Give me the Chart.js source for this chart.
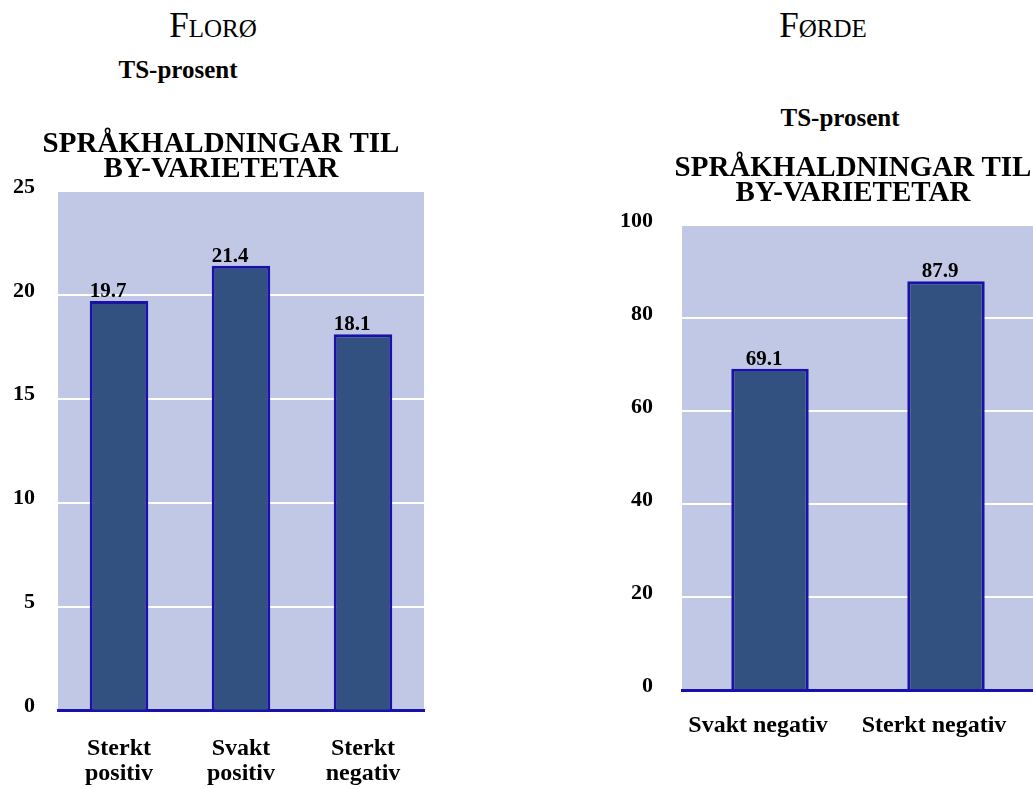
<!DOCTYPE html>
<html>
<head>
<meta charset="utf-8">
<script src="https://cdn.jsdelivr.net/npm/chart.js@4.4.1/dist/chart.umd.min.js"></script>
<style>
  html, body { margin: 0; padding: 0; background: #fff; overflow: hidden; }
  body { width: 1033px; height: 789px; position: relative; font-family: "Liberation Serif", "Times New Roman", serif; }
  .place { position: absolute; font-size: 35px; font-variant: small-caps; text-align: center; width: 300px; line-height: 35px; }
  .unit { position: absolute; font-size: 25px; font-weight: bold; text-align: center; width: 300px; line-height: 25px; }
  canvas { position: absolute; top: 0; }
</style>
</head>
<body>
<div class="place" style="left:63px; top:8px;">Florø</div>
<div class="place" style="left:673px; top:8px;">Førde</div>
<div class="unit" style="left:28px; top:57px;">TS-prosent</div>
<div class="unit" style="left:690px; top:105px;">TS-prosent</div>
<canvas id="floro" width="462" height="812" style="left:-10px;"></canvas>
<canvas id="forde" width="524" height="789" style="left:591px;"></canvas>
<script>
const titleLines = ['SPRÅKHALDNINGAR TIL', 'BY-VARIETETAR'];

const floroLabels = [['Sterkt', 'positiv'], ['Svakt', 'positiv'], ['Sterkt', 'negativ']];
const floroValues = [19.7, 21.4, 18.1];

const fordeLabels = ['Svakt negativ', 'Sterkt negativ'];
const fordeValues = [69.1, 87.9];

const bgBlue = '#c0c8e6';
const barFill = '#325181';
const barEdge = '#1a12a8';

// light blue plot area behind the bars
const plotBg = {
    id: 'plotBg',
    beforeDraw(chart) {
        const a = chart.chartArea;
        const ctx = chart.ctx;
        ctx.save();
        ctx.fillStyle = bgBlue;
        ctx.fillRect(a.left, a.top, a.right - a.left, a.bottom - a.top);
        ctx.restore();
    }
};

// value written on top of each bar
const valueTags = {
    id: 'valueTags',
    afterDatasetsDraw(chart, args, opts) {
        const ctx = chart.ctx;
        const meta = chart.getDatasetMeta(0);
        ctx.save();
        ctx.font = 'bold 21px "Liberation Serif", serif';
        ctx.fillStyle = '#000';
        ctx.textBaseline = 'alphabetic';
        meta.data.forEach((bar, i) => {
            const v = chart.data.datasets[0].data[i].toFixed(1);
            if (opts.align === 'left') {
                ctx.textAlign = 'left';
                ctx.fillText(v, bar.x - bar.width / 2, bar.y - 4);
            } else {
                ctx.textAlign = 'center';
                ctx.fillText(v, bar.x - 6, bar.y - 4);
            }
        });
        ctx.restore();
    }
};

function makeChart(el, labels, values, o) {
    return new Chart(el, {
        type: 'bar',
        data: {
            labels: labels,
            datasets: [{
                data: values,
                backgroundColor: barFill,
                borderColor: barEdge,
                borderWidth: 3,
                categoryPercentage: 1,
                barPercentage: o.barPct
            }]
        },
        options: {
            responsive: false,
            animation: false,
            layout: { padding: o.pad },
            plugins: {
                legend: { display: false },
                tooltip: { enabled: false },
                title: {
                    display: true,
                    text: titleLines,
                    color: '#000',
                    font: { family: '"Liberation Serif", serif', size: 29, weight: 'bold', lineHeight: 0.86 },
                    padding: o.titlePad
                },
                valueTags: { align: o.tagAlign }
            },
            scales: {
                x: {
                    grid: { display: false, drawTicks: false },
                    border: { display: true, color: barEdge, width: 3 },
                    ticks: {
                        color: '#000',
                        padding: o.xPad,
                        maxRotation: 0,
                        labelOffset: o.xShift,
                        font: { family: '"Liberation Serif", serif', size: 24, weight: 'bold', lineHeight: 1.07 }
                    }
                },
                y: {
                    min: 0,
                    max: o.max,
                    grid: {
                        color: ctx => ctx.tick.value === 0 ? 'rgba(0,0,0,0)' : '#ffffff',
                        lineWidth: 2,
                        drawTicks: false
                    },
                    border: { display: false },
                    ticks: {
                        stepSize: o.step,
                        color: '#000',
                        padding: o.yPad,
                        labelOffset: -4,
                        font: { family: '"Liberation Serif", serif', size: 22, weight: 'bold' }
                    }
                },
                // empty strip on the right so the title stays centred on the whole canvas
                gap: {
                    type: 'linear',
                    position: 'right',
                    grid: { display: false, drawTicks: false },
                    border: { display: false },
                    ticks: { display: false },
                    afterFit(scale) { scale.width = o.rightGap; }
                }
            }
        },
        plugins: [plotBg, valueTags]
    });
}

makeChart(document.getElementById('floro'), floroLabels, floroValues, {
    max: 25, step: 5, barPct: 0.48, tagAlign: 'left', xShift: 0, rightGap: 28,
    pad: { top: 122, left: 0, right: 0, bottom: 0 },
    titlePad: { top: 10, bottom: 9 },
    xPad: 25, yPad: 23
});

makeChart(document.getElementById('forde'), fordeLabels, fordeValues, {
    max: 100, step: 20, barPct: 0.44, tagAlign: 'center', xShift: -12, rightGap: 81,
    pad: { top: 146, left: 0, right: 0, bottom: 27 },
    titlePad: { top: 10, bottom: 19 },
    xPad: 23, yPad: 29
});
</script>
</body>
</html>
